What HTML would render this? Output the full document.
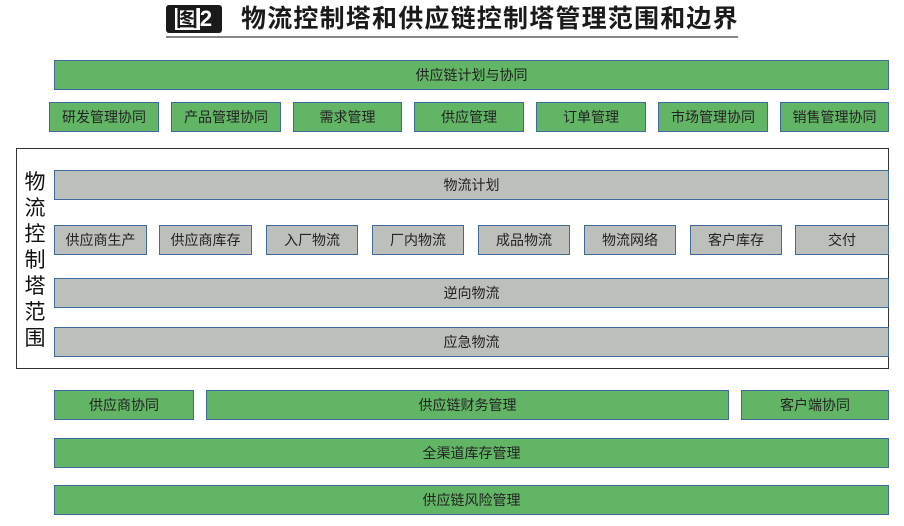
<!DOCTYPE html>
<html><head><meta charset="utf-8"><style>
body{margin:0;width:904px;height:526px;background:#fff;position:relative;overflow:hidden;font-family:"Liberation Sans","Noto Sans CJK SC",sans-serif;}
.b{position:absolute;box-sizing:border-box;border:1.5px solid #3f6aa0;display:flex;align-items:center;justify-content:center;font-size:14px;color:#222;}
.g{background:#63b566;}
.y{background:#bdbfbb;}
</style></head><body>
<div style="position:absolute;left:166px;top:5px;width:56px;height:28px;background:#1a1a1a;border-radius:3px;color:#fff;font-weight:bold;font-size:22px;display:flex;align-items:center;justify-content:center;letter-spacing:1px;"><span style="background:#fff;color:#1a1a1a;padding:0 1px;line-height:22px;">图</span>2</div>
<div style="position:absolute;left:241px;top:3px;font-size:25px;font-weight:bold;color:#1a1a1a;line-height:32px;letter-spacing:1.2px;">物流控制塔和供应链控制塔管理范围和边界</div>
<div style="position:absolute;left:166px;top:36px;width:572px;height:2px;background:#888;"></div>

<div class="b g" style="left:54px;top:60px;width:835px;height:30px;">供应链计划与协同</div>
<div class="b g" style="left:49px;top:102px;width:110px;height:30px;">研发管理协同</div>
<div class="b g" style="left:171px;top:102px;width:110px;height:30px;">产品管理协同</div>
<div class="b g" style="left:293px;top:102px;width:109px;height:30px;">需求管理</div>
<div class="b g" style="left:414px;top:102px;width:110px;height:30px;">供应管理</div>
<div class="b g" style="left:536px;top:102px;width:110px;height:30px;">订单管理</div>
<div class="b g" style="left:658px;top:102px;width:110px;height:30px;">市场管理协同</div>
<div class="b g" style="left:780px;top:102px;width:109px;height:30px;">销售管理协同</div>

<div style="position:absolute;left:16px;top:148px;width:873px;height:221px;box-sizing:border-box;border:1.5px solid #333;"></div>
<div style="position:absolute;left:22px;top:170px;width:26px;font-size:21px;line-height:26px;color:#111;text-align:center;">物<br>流<br>控<br>制<br>塔<br>范<br>围</div>
<div class="b y" style="left:54px;top:170px;width:835px;height:30px;">物流计划</div>
<div class="b y" style="left:54px;top:225px;width:93px;height:30px;">供应商生产</div>
<div class="b y" style="left:159px;top:225px;width:93px;height:30px;">供应商库存</div>
<div class="b y" style="left:266px;top:225px;width:92px;height:30px;">入厂物流</div>
<div class="b y" style="left:372px;top:225px;width:92px;height:30px;">厂内物流</div>
<div class="b y" style="left:478px;top:225px;width:92px;height:30px;">成品物流</div>
<div class="b y" style="left:584px;top:225px;width:92px;height:30px;">物流网络</div>
<div class="b y" style="left:690px;top:225px;width:92px;height:30px;">客户库存</div>
<div class="b y" style="left:795px;top:225px;width:94px;height:30px;">交付</div>
<div class="b y" style="left:54px;top:278px;width:835px;height:30px;">逆向物流</div>
<div class="b y" style="left:54px;top:327px;width:835px;height:30px;">应急物流</div>

<div class="b g" style="left:54px;top:390px;width:140px;height:30px;">供应商协同</div>
<div class="b g" style="left:206px;top:390px;width:523px;height:30px;">供应链财务管理</div>
<div class="b g" style="left:741px;top:390px;width:148px;height:30px;">客户端协同</div>
<div class="b g" style="left:54px;top:438px;width:835px;height:30px;">全渠道库存管理</div>
<div class="b g" style="left:54px;top:485px;width:835px;height:30px;">供应链风险管理</div>
</body></html>
